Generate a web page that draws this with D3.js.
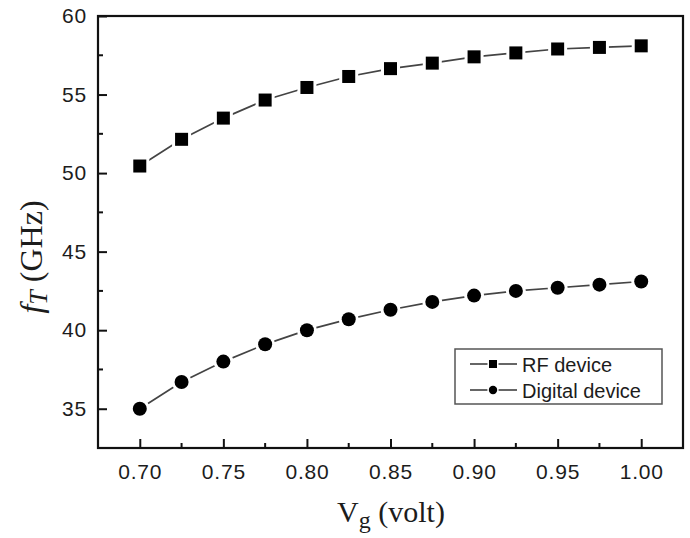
<!DOCTYPE html>
<html>
<head>
<meta charset="utf-8">
<script src="https://d3js.org/d3.v7.min.js"></script>
<style>
  body { margin: 0; background: #fff; }
  svg { display: block; }
</style>
</head>
<body>
<div id="chart"></div>
<script>
// --- data ---
const vg = [0.700, 0.725, 0.750, 0.775, 0.800, 0.825, 0.850, 0.875, 0.900, 0.925, 0.950, 0.975, 1.000];
const rfDevice = [50.45, 52.15, 53.5, 54.65, 55.45, 56.15, 56.65, 57.0, 57.4, 57.65, 57.9, 58.0, 58.1];
const digitalDevice = [35.0, 36.7, 38.0, 39.1, 40.0, 40.7, 41.3, 41.8, 42.2, 42.5, 42.7, 42.9, 43.1];
const xTicks = [0.70, 0.75, 0.80, 0.85, 0.90, 0.95, 1.00];
const yTicks = [35, 40, 45, 50, 55, 60];
const seriesNames = ["RF device", "Digital device"];

const width = 690, height = 538;
const margin = { top: 16, right: 7, bottom: 90, left: 98 };
const innerW = width - margin.left - margin.right;
const innerH = height - margin.top - margin.bottom;

const svg = d3.select("#chart").append("svg")
  .attr("width", width).attr("height", height);

const g = svg.append("g").attr("transform", `translate(${margin.left},${margin.top})`);

const x = d3.scaleLinear().domain([0.675, 1.025]).range([0, innerW]);
const y = d3.scaleLinear().domain([32.5, 60]).range([innerH, 0]);

const tickFont = "'Liberation Sans', Arial, sans-serif";
const serif = "'Liberation Serif', 'Times New Roman', serif";

// frame
g.append("rect").attr("width", innerW).attr("height", innerH)
  .attr("fill", "none").attr("stroke", "#111").attr("stroke-width", 2.2);

// minor ticks
const xMinor = d3.range(0.725, 1.0, 0.05);
const yMinor = d3.range(37.5, 60, 5);
g.selectAll(".xminor").data(xMinor).enter().append("line")
  .attr("x1", d => x(d)).attr("x2", d => x(d))
  .attr("y1", innerH).attr("y2", innerH - 5)
  .attr("stroke", "#111").attr("stroke-width", 2);
g.selectAll(".yminor").data(yMinor).enter().append("line")
  .attr("y1", d => y(d)).attr("y2", d => y(d))
  .attr("x1", 0).attr("x2", 5)
  .attr("stroke", "#111").attr("stroke-width", 2);

// axes with inward major ticks
const xAxis = g.append("g").attr("transform", `translate(0,${innerH})`)
  .call(d3.axisBottom(x).tickValues(xTicks).tickFormat(d3.format(".2f")).tickSize(-9).tickPadding(16));
const yAxis = g.append("g")
  .call(d3.axisLeft(y).tickValues(yTicks).tickFormat(d3.format("d")).tickSize(-9).tickPadding(11));

[xAxis, yAxis].forEach(a => {
  a.select(".domain").remove();
  a.selectAll(".tick line").attr("stroke", "#111").attr("stroke-width", 2);
  a.selectAll(".tick text").attr("fill", "#1c1c1c")
    .style("font-family", tickFont).style("font-size", "21px")
    .style("letter-spacing", "0.8px");
});

// lines (drawn first, markers with white halo on top to make gaps)
const line = d3.line().x(d => x(d[0])).y(d => y(d[1]));
const rfData = vg.map((v, i) => [v, rfDevice[i]]);
const dgData = vg.map((v, i) => [v, digitalDevice[i]]);

[rfData, dgData].forEach(data => {
  g.append("path").datum(data).attr("d", line)
    .attr("fill", "none").attr("stroke", "#444").attr("stroke-width", 1.7);
});

const sq = 13;
g.selectAll(".rf").data(rfData).enter().append("rect")
  .attr("x", d => x(d[0]) - sq / 2).attr("y", d => y(d[1]) - sq / 2)
  .attr("width", sq).attr("height", sq)
  .attr("fill", "#000").attr("stroke", "#fff").attr("stroke-width", 6)
  .attr("paint-order", "stroke");

g.selectAll(".dg").data(dgData).enter().append("circle")
  .attr("cx", d => x(d[0])).attr("cy", d => y(d[1])).attr("r", 7)
  .attr("fill", "#000").attr("stroke", "#fff").attr("stroke-width", 6)
  .attr("paint-order", "stroke");

// legend
const lg = svg.append("g").attr("transform", "translate(455,349)");
lg.append("rect").attr("width", 207).attr("height", 55)
  .attr("fill", "#fff").attr("stroke", "#555").attr("stroke-width", 1.5);
seriesNames.forEach((name, i) => {
  const cy = 15 + i * 26;
  lg.append("line").attr("x1", 15).attr("x2", 62).attr("y1", cy).attr("y2", cy)
    .attr("stroke", "#333").attr("stroke-width", 1.5);
  if (i === 0) {
    lg.append("rect").attr("x", 38 - 4).attr("y", cy - 4).attr("width", 8).attr("height", 8)
      .attr("fill", "#000").attr("stroke", "#fff").attr("stroke-width", 3).attr("paint-order", "stroke");
  } else {
    lg.append("circle").attr("cx", 38).attr("cy", cy).attr("r", 4.2)
      .attr("fill", "#000").attr("stroke", "#fff").attr("stroke-width", 3).attr("paint-order", "stroke");
  }
  lg.append("text").attr("x", 67).attr("y", cy + 7.5)
    .style("font-family", tickFont).style("font-size", "20px").attr("fill", "#1c1c1c")
    .text(name);
});

// axis titles
const xt = svg.append("text")
  .attr("x", 391).attr("y", 522)
  .attr("text-anchor", "middle")
  .style("font-family", serif).style("font-size", "30px").attr("fill", "#1c1c1c");
xt.append("tspan").text("V");
xt.append("tspan").attr("dy", 6).style("font-size", "24px").text("g");
xt.append("tspan").attr("dy", -6).text(" (volt)");

const yt = svg.append("text")
  .attr("transform", `translate(42,257) rotate(-90)`)
  .attr("text-anchor", "middle")
  .style("font-family", serif).style("font-size", "32px").attr("fill", "#1c1c1c");
yt.append("tspan").style("font-style", "italic").text("f");
yt.append("tspan").attr("dy", 5).style("font-style", "italic").style("font-size", "26px").text("T");
yt.append("tspan").attr("dy", -5).text("  (GHz)");
</script>
</body>
</html>
